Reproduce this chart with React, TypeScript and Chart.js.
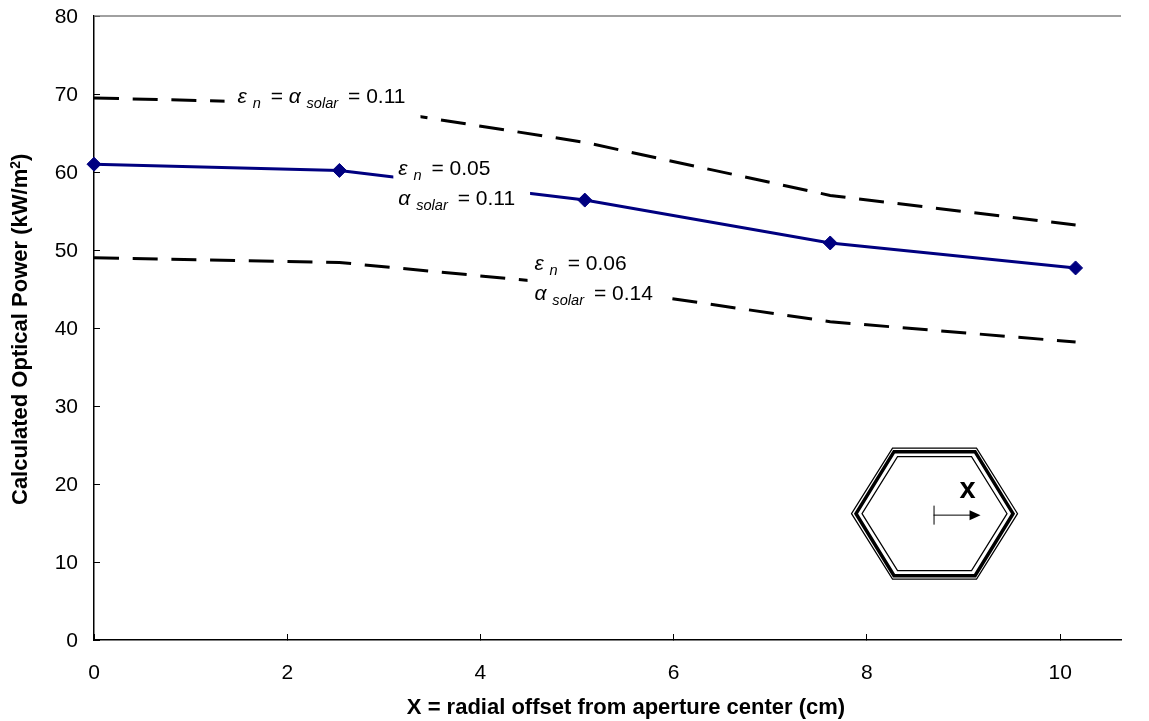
import React, { useEffect, useRef } from "react";
import { Chart, registerables } from "chart.js";

Chart.register(...registerables);

const xValues = [0, 2.54, 5.08, 7.62, 10.16];
const upperSeries = [69.5, 68.7, 63.8, 57, 53.2];
const middleSeries = [61, 60.2, 56.4, 50.9, 47.7];
const lowerSeries = [49, 48.4, 45.4, 40.8, 38.2];
const yTicks = [0, 10, 20, 30, 40, 50, 60, 70, 80];
const xTicks = [0, 2, 4, 6, 8, 10];
const X_MAX = 10.63;
const FONT = '"Liberation Sans", Arial, sans-serif';
const xTitle = "X = radial offset from aperture center (cm)";
const yTitle = "Calculated Optical Power (kW/m";

type Run = { t: string; italic?: boolean; small?: boolean };
const gap: Run = { t: " ", small: true };
const eps: Run[] = [{ t: "ε", italic: true }, { t: " " }, { t: "n", italic: true, small: true }, gap];
const alpha: Run[] = [{ t: "α", italic: true }, { t: " " }, { t: "solar", italic: true, small: true }, gap];
const labels: { x: number; ys: number[]; pad: number; lines: Run[][] }[] = [
  { x: 1.486, ys: [68.85], pad: 13, lines: [[...eps, { t: " = " }, ...alpha, { t: " = 0.11" }]] },
  { x: 3.15, ys: [59.6, 55.8], pad: 5, lines: [[...eps, { t: " = 0.05" }], [...alpha, { t: " = 0.11" }]] },
  { x: 4.56, ys: [47.4, 43.6], pad: 7, lines: [[...eps, { t: " = 0.06" }], [...alpha, { t: " = 0.14" }]] },
];

function drawRuns(ctx: CanvasRenderingContext2D, x: number, y: number, runs: Run[], paint: boolean) {
  let cx = x;
  for (const r of runs) {
    ctx.font = `${r.italic ? "italic " : ""}${r.small ? 14.6 : 21}px ${FONT}`;
    ctx.fillStyle = "#000";
    if (paint) ctx.fillText(r.t, cx, r.small ? y + 5 : y);
    cx += ctx.measureText(r.t).width;
  }
  return cx;
}

const overlay = {
  id: "overlay",
  afterDatasetsDraw(chart: any) {
    const { ctx, scales } = chart;
    const X = scales.x;
    const Y = scales.y;
    ctx.save();
    // top frame line
    ctx.strokeStyle = "#808080";
    ctx.lineWidth = 1.5;
    ctx.beginPath();
    ctx.moveTo(X.left, Y.getPixelForValue(80));
    ctx.lineTo(X.right, Y.getPixelForValue(80));
    ctx.stroke();

    // text labels with white boxes that interrupt the curves
    ctx.textBaseline = "alphabetic";
    ctx.textAlign = "left";
    for (const l of labels) {
      const px = X.getPixelForValue(l.x);
      const ends = l.lines.map((runs, i) => drawRuns(ctx, px, Y.getPixelForValue(l.ys[i]), runs, false));
      const right = Math.max(...ends) + 15;
      const top = Y.getPixelForValue(l.ys[0]) - 20;
      const bottom = Y.getPixelForValue(l.ys[l.ys.length - 1]) + 17;
      ctx.fillStyle = "#fff";
      ctx.fillRect(px - l.pad, top, right - px + l.pad, bottom - top);
    }
    for (const l of labels) {
      l.lines.forEach((runs, i) => drawRuns(ctx, X.getPixelForValue(l.x), Y.getPixelForValue(l.ys[i]), runs, true));
    }

    // inset hexagon
    const cx = X.getPixelForValue(8.7);
    const cy = Y.getPixelForValue(16.2);
    ctx.strokeStyle = "#000";
    const hex = (w: number, h: number, t: number, lw: number) => {
      ctx.lineWidth = lw;
      ctx.beginPath();
      ctx.moveTo(cx - w, cy);
      ctx.lineTo(cx - t, cy - h);
      ctx.lineTo(cx + t, cy - h);
      ctx.lineTo(cx + w, cy);
      ctx.lineTo(cx + t, cy + h);
      ctx.lineTo(cx - t, cy + h);
      ctx.closePath();
      ctx.stroke();
    };
    hex(83, 65.5, 42, 1.2);
    hex(78.5, 62, 40.5, 3.5);
    hex(72.5, 57, 37, 1.2);
    // arrow
    const ax = cx - 1;
    ctx.lineWidth = 1;
    ctx.beginPath();
    ctx.moveTo(ax + 0.5, cy - 8);
    ctx.lineTo(ax + 0.5, cy + 11);
    ctx.moveTo(ax, cy + 1.5);
    ctx.lineTo(ax + 38, cy + 1.5);
    ctx.stroke();
    ctx.fillStyle = "#000";
    ctx.beginPath();
    ctx.moveTo(ax + 47, cy + 1.5);
    ctx.lineTo(ax + 36, cy - 3.5);
    ctx.lineTo(ax + 36, cy + 6.5);
    ctx.closePath();
    ctx.fill();
    ctx.font = `bold 29px ${FONT}`;
    ctx.textAlign = "center";
    ctx.fillText("x", ax + 34, cy - 15.5);

    // axis titles
    ctx.fillStyle = "#000";
    ctx.font = `bold 22px ${FONT}`;
    ctx.textAlign = "center";
    ctx.textBaseline = "middle";
    ctx.fillText(xTitle, 626, 708);
    ctx.save();
    ctx.translate(20, 316);
    ctx.rotate(-Math.PI / 2);
    const w1 = ctx.measureText(yTitle).width;
    ctx.textAlign = "left";
    ctx.textBaseline = "alphabetic";
    const start = -189;
    ctx.fillText(yTitle, start, 7);
    ctx.font = `bold 14px ${FONT}`;
    const w2 = ctx.measureText("2").width;
    ctx.fillText("2", start + w1, 0);
    ctx.font = `bold 22px ${FONT}`;
    ctx.fillText(")", start + w1 + w2, 7);
    ctx.restore();
    ctx.restore();
  },
};

export default function App() {
  const ref = useRef<HTMLCanvasElement>(null);
  useEffect(() => {
    document.body.style.margin = "0";
    const dashed = {
      borderColor: "#000",
      borderWidth: 3,
      borderDash: [25, 13.7],
      borderCapStyle: "butt",
      pointRadius: 0,
      tension: 0,
      showLine: true,
    };
    const chart = new Chart(ref.current!, {
      type: "scatter",
      data: {
        datasets: [
          { label: "εn = αsolar = 0.11", data: xValues.map((x, i) => ({ x, y: upperSeries[i] })), ...dashed },
          {
            label: "εn = 0.05, αsolar = 0.11",
            data: xValues.map((x, i) => ({ x, y: middleSeries[i] })),
            showLine: true,
            tension: 0,
            clip: false,
            borderColor: "#000080",
            backgroundColor: "#000080",
            borderWidth: 3,
            pointStyle: "rectRot",
            pointRadius: 7,
            pointBackgroundColor: "#000080",
            pointBorderColor: "#000080",
            pointBorderWidth: 1,
          },
          { label: "εn = 0.06, αsolar = 0.14", data: xValues.map((x, i) => ({ x, y: lowerSeries[i] })), ...dashed },
        ],
      } as any,
      options: {
        animation: false,
        responsive: false,
        layout: { padding: { top: 16, right: 28, left: 0, bottom: 0 } },
        plugins: { legend: { display: false }, tooltip: { enabled: false } },
        scales: {
          x: {
            type: "linear",
            min: 0,
            max: X_MAX,
            afterBuildTicks(s: any) {
              s.ticks = xTicks.map((value) => ({ value }));
            },
            afterFit(s: any) {
              s.height = 81;
              s.paddingLeft = 0;
              s.paddingRight = 0;
            },
            grid: { drawOnChartArea: false, drawTicks: true, tickLength: -6, color: "#000" },
            border: { color: "#000", width: 1.5 },
            ticks: { color: "#000", padding: 27, maxRotation: 0, font: { family: FONT, size: 21 } },
          },
          y: {
            min: 0,
            max: 80,
            afterBuildTicks(s: any) {
              s.ticks = yTicks.map((value) => ({ value }));
            },
            afterFit(s: any) {
              s.width = 94;
              s.paddingTop = 0;
              s.paddingBottom = 0;
            },
            grid: { drawOnChartArea: false, drawTicks: true, tickLength: -6, color: "#000" },
            border: { color: "#000", width: 1.5 },
            ticks: { color: "#000", padding: 22, labelOffset: 1.5, font: { family: FONT, size: 21 } },
          },
        },
      } as any,
      plugins: [overlay],
    });
    return () => chart.destroy();
  }, []);
  return <canvas ref={ref} width={1149} height={721} style={{ display: "block" }} />;
}
